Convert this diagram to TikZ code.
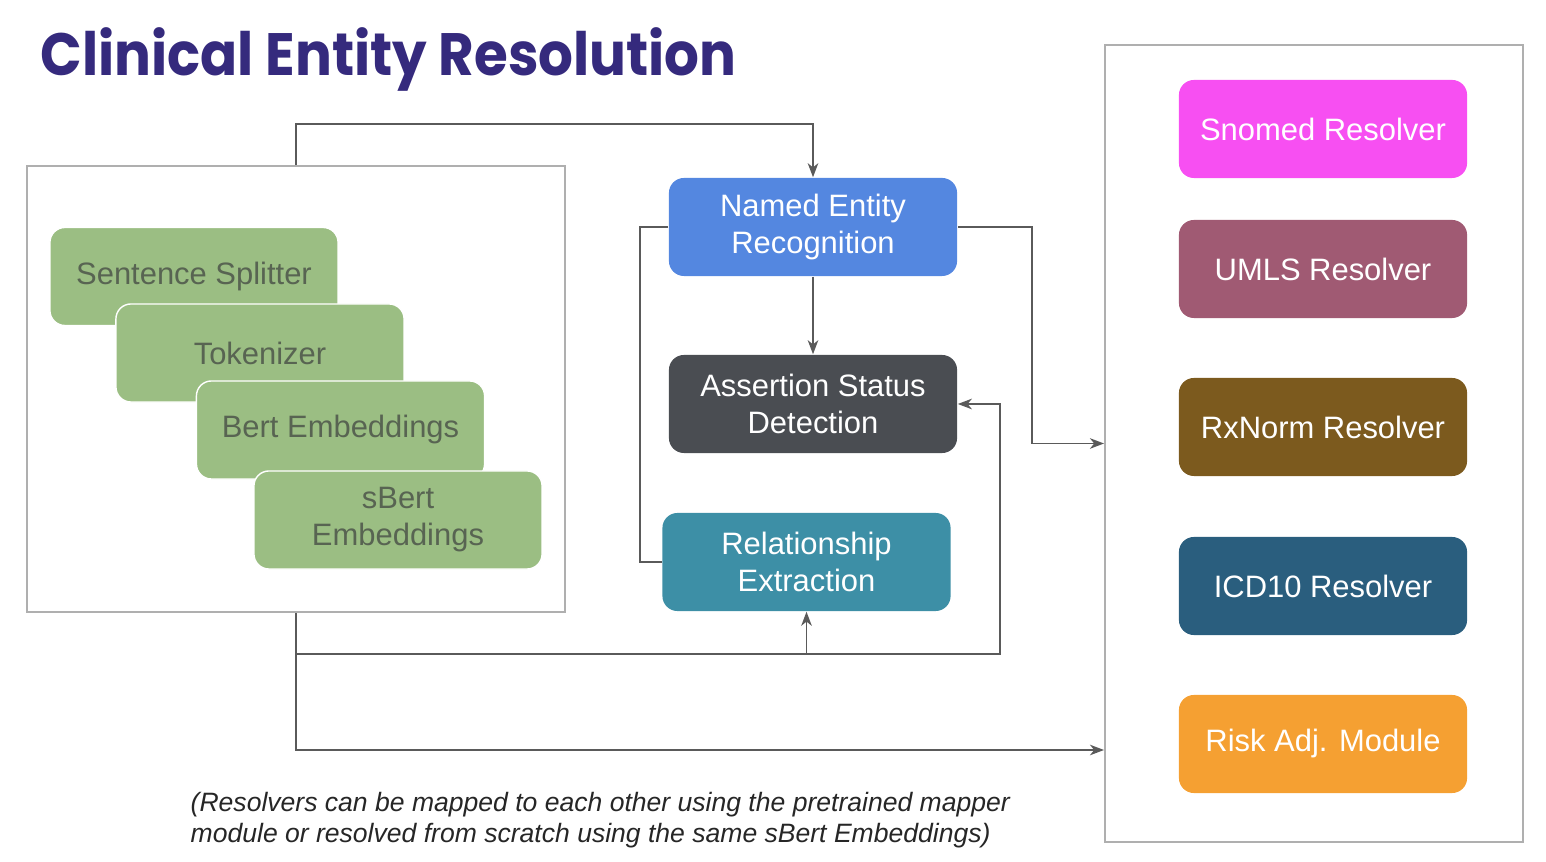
\documentclass[tikz,border=0pt]{standalone}
\usepackage{fontspec}
\setmainfont{Liberation Sans}
\newfontfamily\titlefont{Poppins}
\usetikzlibrary{arrows.meta}

\definecolor{titleblue}{RGB}{53,42,125}
\definecolor{stagegreen}{RGB}{155,190,131}
\definecolor{stagetext}{RGB}{88,100,82}
\definecolor{nerblue}{RGB}{84,135,224}
\definecolor{assertgray}{RGB}{74,77,82}
\definecolor{relteal}{RGB}{61,143,166}
\definecolor{snomedpink}{RGB}{247,79,242}
\definecolor{umlsplum}{RGB}{160,90,115}
\definecolor{rxbrown}{RGB}{124,90,30}
\definecolor{icdblue}{RGB}{42,94,126}
\definecolor{riskorange}{RGB}{245,160,50}
\definecolor{framegray}{RGB}{175,175,175}
\definecolor{linkgray}{RGB}{90,90,90}

\tikzset{
  box/.style={rounded corners=0.15cm, minimum width=2.88cm, minimum height=0.98cm,
    inner sep=0pt, align=center, text=white, font=\fontsize{8.8}{10.5}\selectfont},
  stage/.style={box, fill=stagegreen, draw=white, line width=0.4pt, text=stagetext},
  frame/.style={draw=framegray, line width=0.5pt, inner sep=0pt},
  link/.style={draw=linkgray, line width=0.5pt},
  tip/.style={-{Stealth[length=4pt,width=3pt,inset=1.2pt]}}
}

\begin{document}
\begin{tikzpicture}[x=0.01cm, y=-0.01cm]
  \useasboundingbox (0,0) rectangle (1546,862);
  \node[anchor=base west, inner sep=0pt, text=titleblue,
    font=\titlefont\bfseries\fontsize{17}{20}\selectfont] (title) at (40,76)
    {\scalebox{0.915}[1]{Clinical Entity Resolution}};

  % containers
  \node[frame, minimum width=5.38cm, minimum height=4.46cm] (pipe) at (296,389) {};
  \node[frame, minimum width=4.18cm, minimum height=7.97cm] (resolvers) at (1314,443.5) {};

  % embedding stack
  \node[stage] (splitter) at (194,276.5) {Sentence Splitter};
  \node[stage] (tokenizer) at (260,353) {Tokenizer};
  \node[stage] (bert) at (340.5,430) {Bert Embeddings};
  \node[stage] (sbert) at (398,520) {sBert\\Embeddings};

  % annotators
  \node[box, fill=nerblue] (ner) at (813,227) {Named Entity\\Recognition};
  \node[box, fill=assertgray] (assertion) at (813,404) {Assertion Status\\Detection};
  \node[box, fill=relteal] (relation) at (806.5,562) {Relationship\\Extraction};

  % resolvers
  \foreach \name/\col/\y/\txt in {snomed/snomedpink/129/Snomed Resolver,
      umls/umlsplum/269/UMLS Resolver, rxnorm/rxbrown/427/RxNorm Resolver,
      icd/icdblue/586/ICD10 Resolver, risk/riskorange/744/Risk Adj. Module}
    \node[box, fill=\col] (\name) at (1323,\y) {\txt};

  % connectors
  \draw[link, tip] (pipe.north) -- ++(0,-41) -| (ner.north);
  \draw[link, tip] (ner) -- (assertion);
  \draw[link] (ner.west) -- ++(-28,0) |- (relation.west);
  \draw[link, tip] (ner.east) -- ++(74,0) |- (resolvers.west);
  \coordinate (loop) at (1000,654);
  \draw[link, tip] (pipe.south) |- (loop) |- (assertion.east);
  \draw[link, tip] (relation.south |- loop) -- (relation.south);
  \draw[link, tip] (pipe.south) -- ++(0,137) coordinate (corner) -- (corner -| resolvers.west);

  \node[anchor=west, inner sep=0pt, align=left, text=black!85,
    font=\itshape\fontsize{7.55}{9}\selectfont] (note) at (190,820)
    {(Resolvers can be mapped to each other using the pretrained mapper\\module or resolved from scratch using the same sBert Embeddings)};
\end{tikzpicture}
\end{document}
